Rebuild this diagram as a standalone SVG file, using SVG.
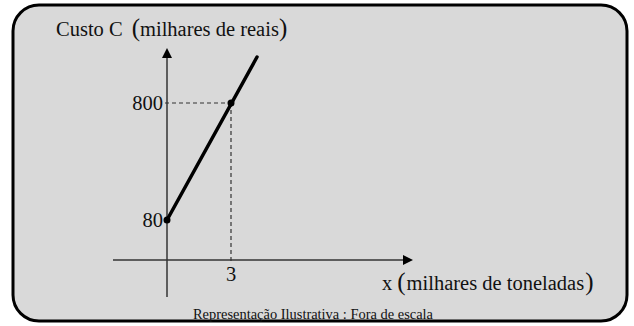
<svg xmlns="http://www.w3.org/2000/svg" width="634" height="326" viewBox="0 0 634 326">
<defs>
<style>
.t{font-family:"Liberation Serif","Times New Roman",serif;fill:#111;font-size:20.5px}
.p{font-size:25px}
.f{font-family:"Liberation Serif","Times New Roman",serif;fill:#111;font-size:14px}
.axis{stroke:#333;stroke-width:1.5;fill:none}
.dash{stroke:#333;stroke-width:1.2;stroke-dasharray:4 3;fill:none}
.graph{stroke:#000;stroke-width:3.5;fill:none;stroke-linecap:round}
</style>
</defs>
<g id="frame">
<rect x="13" y="5" width="614" height="316" rx="26" ry="26" fill="#d9d9d9" stroke="#000" stroke-width="3"/>
</g>
<g id="connectors">
<line class="axis" x1="113" y1="260" x2="404" y2="260"/>
<polygon points="413,260 403,255 403,265" fill="#000"/>
<line class="axis" x1="167" y1="297" x2="167" y2="57"/>
<polygon points="167,48 162,58 172,58" fill="#000"/>
<line class="dash" x1="165" y1="103" x2="231" y2="103"/>
<line class="dash" x1="231" y1="103" x2="231" y2="264"/>
<line class="graph" x1="167" y1="220" x2="257" y2="57"/>
<circle cx="167" cy="220" r="3.5" fill="#000"/>
<circle cx="231" cy="103" r="3.5" fill="#000"/>
</g>
<g id="ylabel">
<text class="t" x="56" y="36">Custo C<tspan class="p" dx="9">(</tspan><tspan dx="0">milhares de reais</tspan><tspan class="p" dx="0">)</tspan></text>
</g>
<g id="tick800"><text class="t" x="163" y="110" text-anchor="end">800</text></g>
<g id="tick80"><text class="t" x="163" y="227" text-anchor="end">80</text></g>
<g id="tick3"><text class="t" x="231" y="281" text-anchor="middle">3</text></g>
<g id="xlabel">
<text class="t" x="382" y="290">x<tspan class="p" dx="5">(</tspan><tspan dx="1">milhares de toneladas</tspan><tspan class="p" dx="1">)</tspan></text>
</g>
<g id="footer">
<text class="f" x="193" y="319" textLength="240" lengthAdjust="spacingAndGlyphs">Representação Ilustrativa : Fora de escala</text>
</g>
</svg>
